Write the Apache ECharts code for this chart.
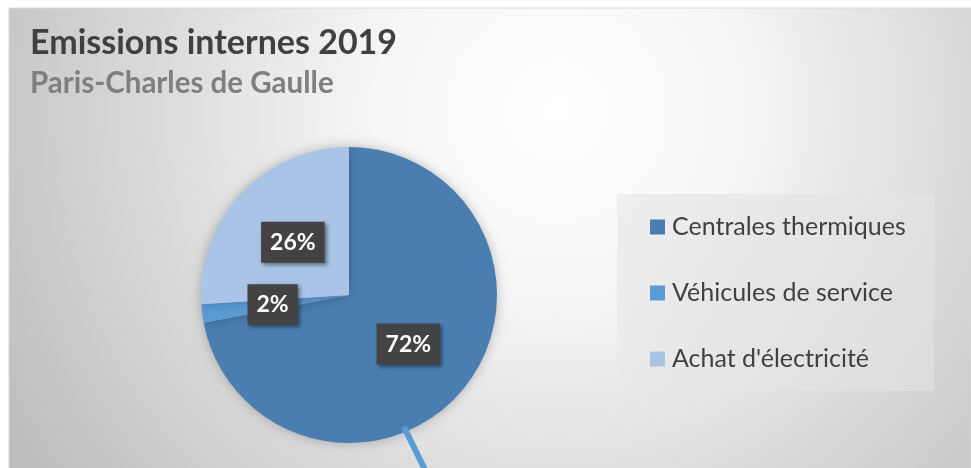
<!DOCTYPE html>
<html>
<head>
<meta charset="utf-8">
<script src="https://cdn.jsdelivr.net/npm/echarts@6/dist/echarts.min.js"></script>
<style>
  html, body { margin: 0; padding: 0; background: #fff; }
  #chart { width: 971px; height: 468px; }
</style>
</head>
<body>
<div id="chart"></div>
<script>
// data
const categories = ['Centrales thermiques', 'Véhicules de service', "Achat d'électricité"]
const shares = [72, 2, 26]
const colors = ['#4a7eb1', '#5b9bd5', '#a9c4e6']

const chart = echarts.init(document.getElementById('chart'))

chart.setOption({
  backgroundColor: '#fff',
  textStyle: { fontFamily: 'Lato' },
  color: colors,
  title: {
    text: 'Emissions internes 2019',
    subtext: 'Paris-Charles de Gaulle',
    left: 30,
    top: 26,
    padding: 0,
    itemGap: 8,
    textStyle: { fontFamily: 'Lato', fontSize: 34, fontWeight: 'bold', color: '#404040' },
    subtextStyle: { fontFamily: 'Lato', fontSize: 29.5, fontWeight: 'bold', color: '#7f7f7f' }
  },
  graphic: [
    {
      type: 'rect',
      z: -10,
      silent: true,
      shape: { x: 9, y: 8, width: 962, height: 470 },
      style: {
        fill: {
          type: 'radial', x: 0.57, y: 0.22, r: 1.35,
          colorStops: [
            { offset: 0, color: '#ffffff' },
            { offset: 0.28, color: '#f7f7f7' },
            { offset: 1, color: '#bdbdbd' }
          ]
        },
        stroke: '#d9d9d9',
        lineWidth: 1
      }
    },
    {
      type: 'rect',
      z: -5,
      silent: true,
      shape: { x: 617, y: 194, width: 317, height: 197 },
      style: {
        fill: {
          type: 'linear', x: 0, y: 0, x2: 1, y2: 1,
          colorStops: [
            { offset: 0, color: '#efefef' },
            { offset: 1, color: '#dcdcdc' }
          ]
        }
      }
    },
    {
      type: 'line',
      z: 100,
      silent: true,
      shape: { x1: 404, y1: 427, x2: 431, y2: 482 },
      style: { stroke: '#5b9bd5', lineWidth: 6 }
    }
  ],
  legend: {
    orient: 'vertical',
    left: 650,
    top: 214,
    padding: 0,
    icon: 'rect',
    itemWidth: 15,
    itemHeight: 15,
    itemGap: 40,
    data: categories,
    textStyle: { fontFamily: 'Lato', fontSize: 25, lineHeight: 26, color: '#404040', padding: [0, 0, 0, 2] }
  },
  series: [{
    type: 'pie',
    center: [349, 295],
    radius: 148,
    startAngle: 90,
    animation: false,
    itemStyle: { shadowBlur: 12, shadowColor: 'rgba(0,0,0,0.25)' },
    label: {
      show: true,
      position: 'inside',
      formatter: '{c}%',
      fontFamily: 'Lato',
      fontSize: 23,
      fontWeight: 'bold',
      color: '#fff',
      backgroundColor: '#434343',
      padding: [8, 9],
      lineHeight: 25,
      shadowBlur: 4,
      shadowOffsetX: 2,
      shadowOffsetY: 2,
      shadowColor: 'rgba(0,0,0,0.45)'
    },
    labelLine: { show: false },
    data: categories.map((name, i) => ({ name, value: shares[i] }))
  }]
})
</script>
</body>
</html>
